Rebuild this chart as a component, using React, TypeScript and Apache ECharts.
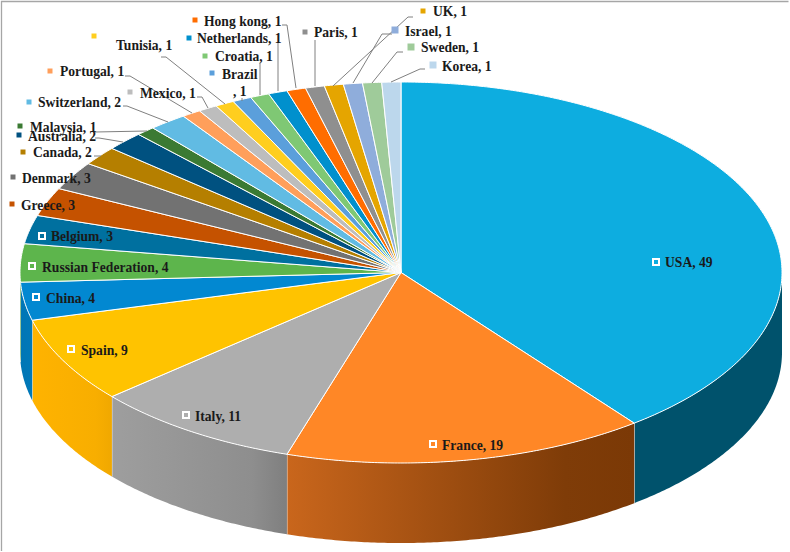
import React, { useEffect, useRef } from "react";
import * as echarts from "echarts";

const categories = ["USA","France","Italy","Spain","China","Russian Federation","Belgium","Greece","Denmark","Canada","Australia","Malaysia","Switzerland","Portugal","Mexico","Tunisia","Brazil","Croatia","Netherlands","Hong kong","Paris","UK","Israel","Sweden","Korea"];
const values = [49,19,11,9,4,4,3,3,3,2,2,1,2,1,1,1,1,1,1,1,1,1,1,1,1];
const colors = ["#0DADE0","#FF8726","#AEAEAE","#FFC300","#0288D1","#5DB54C","#00709F","#C55200","#727272","#B57F00","#005180","#3B7A33","#61BBE3","#FF9F5B","#BDBDBD","#FFCE1F","#5B9FDB","#7FC874","#0090CD","#FF6D00","#8F8F8F","#E5A500","#8FADDB","#9FCB9A","#BCD7EC"];
const sideColors: Record<string, [string, string, string]> = {
  USA: ["#00526C", "#00526C", "#00526C"],
  France: ["#C9661C", "#7F3C08", "#7B3906"],
  Italy: ["#9E9E9E", "#8E8E8E", "#7F7F7F"],
  Spain: ["#FFB300", "#F8AE00", "#F0A800"],
  China: ["#0076B5", "#0078B8", "#0079BA"],
  "Russian Federation": ["#4FA040", "#4FA040", "#4FA040"],
};

// label placement: [key x, key y, key size, text x, text y, inside]
const labelLayout: Record<string, [number, number, number, number, number, boolean]> = {
  USA: [656, 262, 6, 665, 262, true],
  France: [433, 444, 6, 442, 445, true],
  Italy: [186, 415, 6, 195, 416, true],
  Spain: [71, 349, 6, 81, 350, true],
  China: [36, 297, 6, 46, 298, true],
  "Russian Federation": [32, 266, 6, 42, 267, true],
  Belgium: [42, 236, 6, 51, 236, true],
  Greece: [12, 204, 5, 21, 205, false],
  Denmark: [13, 177, 5, 22, 178, false],
  Canada: [23, 152, 5, 33, 152, false],
  Australia: [19, 135, 5, 28, 136, false],
  Malaysia: [20, 126, 5, 30, 127, false],
  Switzerland: [29, 102, 5, 38, 102, false],
  Portugal: [50, 71, 5, 60, 71, false],
  Mexico: [130, 92, 5, 140, 93, false],
  Tunisia: [94, 36, 5, 116, 45, false],
  Brazil: [212, 73, 5, 222, 74, false],
  Croatia: [205, 56, 5, 215, 56, false],
  Netherlands: [189, 38, 5, 197, 38, false],
  "Hong kong": [195, 20, 5, 204, 21, false],
  Paris: [305, 32, 5, 314, 32, false],
  UK: [423, 11, 5, 433, 11, false],
  Israel: [395, 30, 7, 405, 31, false],
  Sweden: [411, 47, 7, 421, 47, false],
  Korea: [433, 65, 7, 442, 66, false],
};

const leaderLines: number[][][] = [
  [[282,25],[287,25],[296,88]],
  [[278,43],[278,91]],
  [[315,40],[315,86]],
  [[260,63],[260,95]],
  [[242,98],[242,101]],
  [[197,97],[202,97],[208,108]],
  [[161,57],[166,57],[225,104]],
  [[125,76],[130,76],[192,113]],
  [[123,106],[127,106],[168,122]],
  [[95,132],[147,131]],
  [[95,138],[99,138],[123,142]],
  [[94,156],[101,156]],
  [[413,17],[408,17],[333,86]],
  [[392,34],[382,34],[353,83]],
  [[403,52],[397,52],[372,83]],
  [[425,69],[420,69],[391,82]],
];

const CX = 401, CY = 272.5, RX = 381, RY = 190.5, DEPTH = 80;
const total = values.reduce((a, b) => a + b, 0);
const starts: number[] = [];
values.reduce((acc, v, i) => { starts[i] = acc; return acc + v; }, 0);
const sliceData = values.map((v, i) => [starts[i], v]);
const FONT = 'bold 13.6px "Liberation Serif"';

const pt = (deg: number, dy = 0) => {
  const t = (deg * Math.PI) / 180;
  return [CX + RX * Math.sin(t), CY - RY * Math.cos(t) + dy];
};
const arc = (a0: number, a1: number, dy = 0) => {
  const n = Math.max(2, Math.ceil((a1 - a0) / 0.5));
  const out: number[][] = [];
  for (let i = 0; i <= n; i++) out.push(pt(a0 + ((a1 - a0) * i) / n, dy));
  return out;
};

export default function App() {
  const ref = useRef<HTMLDivElement>(null);
  useEffect(() => {
    const chart = echarts.init(ref.current!, null, { renderer: "svg" });
    const graphics: any[] = [
      { type: "polyline", silent: true, z: 1, shape: { points: [[1.5, 551], [1.5, 1.5], [788.5, 1.5]] }, style: { stroke: "#A6A6A6", lineWidth: 1.3, fill: "none" } },
    ];
    leaderLines.forEach((points) => {
      graphics.push({ type: "polyline", z: 5, silent: true, shape: { points }, style: { stroke: "#808080", lineWidth: 1, fill: "none" } });
    });
    categories.forEach((name, i) => {
      const [kx, ky, ks, tx, ty, inside] = labelLayout[name];
      graphics.push({
        type: "rect", z: 6, silent: true,
        shape: { x: kx - ks / 2, y: ky - ks / 2, width: ks, height: ks },
        style: { fill: colors[i], stroke: inside ? "#fff" : "none", lineWidth: inside ? 2 : 0 },
      });
      if (name === "Brazil") {
        graphics.push({ type: "text", z: 7, silent: true, x: tx, y: ty, style: { text: name, font: FONT, fill: "#1A1A1A", verticalAlign: "middle" } });
        graphics.push({ type: "text", z: 7, silent: true, x: tx + 11, y: ty + 17, style: { text: `, ${values[i]}`, font: FONT, fill: "#1A1A1A", verticalAlign: "middle" } });
      } else {
        graphics.push({ type: "text", z: 7, silent: true, x: tx, y: ty, style: { text: `${name}, ${values[i]}`, font: FONT, fill: "#1A1A1A", verticalAlign: "middle" } });
      }
    });

    chart.setOption({
      animation: false,
      backgroundColor: "#fff",
      graphic: graphics,
      series: [
        {
          type: "custom", coordinateSystem: "none", z: 2, silent: true, clip: false,
          data: sliceData,
          renderItem: (p: any, api: any) => {
            const a0 = Math.max((api.value(0) / total) * 360, 90);
            const a1 = Math.min(((api.value(0) + api.value(1)) / total) * 360, 270);
            if (a1 <= a0) return { type: "group", children: [] };
            const name = categories[p.dataIndex];
            const c = colors[p.dataIndex];
            const stops = sideColors[name] || [c, c, c];
            const rim = arc(a0, a1);
            const bottom = arc(a0, a1, DEPTH).reverse();
            const fill = new echarts.graphic.LinearGradient(0, 0, 1, 0, [
              { offset: 0, color: stops[0] },
              { offset: 0.8, color: stops[1] },
              { offset: 1, color: stops[2] },
            ]);
            return {
              type: "group",
              children: [
                { type: "polygon", shape: { points: rim.concat(bottom) }, style: { fill } },
                { type: "line", shape: { x1: pt(a1)[0], y1: pt(a1)[1], x2: pt(a1)[0], y2: pt(a1)[1] + DEPTH }, style: { stroke: a1 < 270 ? "#E8E8E8" : "none", lineWidth: 1 } },
              ],
            };
          },
        },
        {
          type: "custom", coordinateSystem: "none", z: 3, silent: true, clip: false,
          data: sliceData,
          renderItem: (p: any, api: any) => {
            const a0 = (api.value(0) / total) * 360;
            const a1 = ((api.value(0) + api.value(1)) / total) * 360;
            return {
              type: "polygon",
              shape: { points: [[CX, CY], ...arc(a0, a1)] },
              style: { fill: colors[p.dataIndex], stroke: "#fff", lineWidth: 1 },
            };
          },
        },
      ],
    });
    return () => chart.dispose();
  }, []);
  return <div ref={ref} style={{ position: "absolute", left: 0, top: 0, width: 790, height: 552 }} />;
}
